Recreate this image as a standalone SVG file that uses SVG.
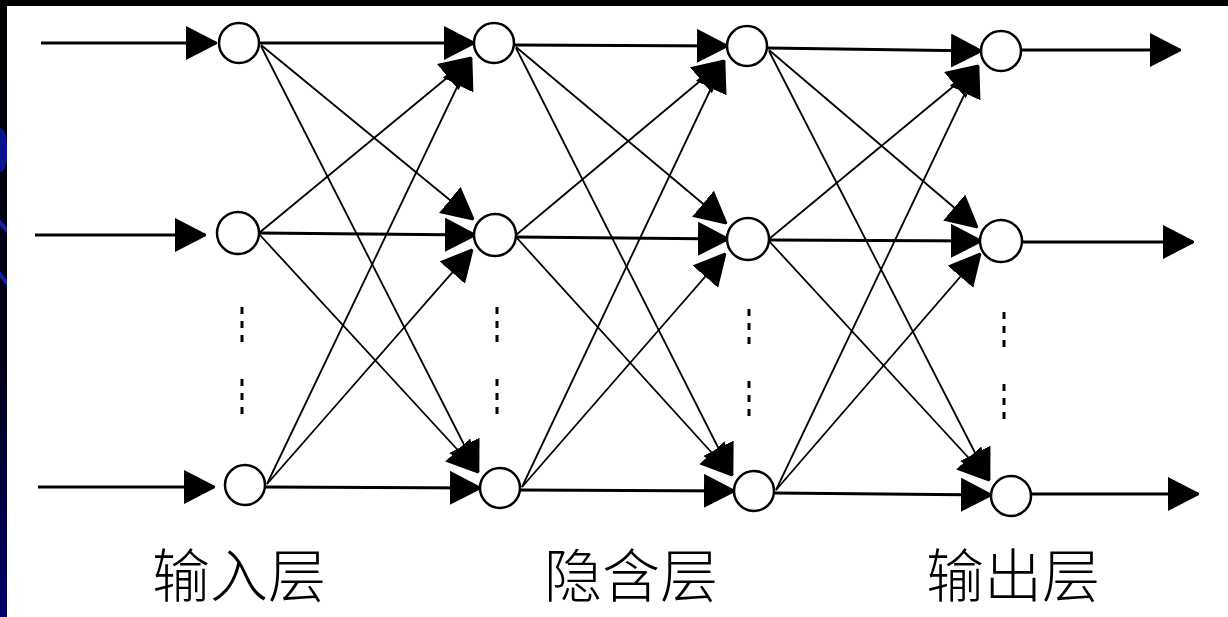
<svg xmlns="http://www.w3.org/2000/svg" width="1228" height="617" viewBox="0 0 1228 617">
  <defs>
    <style>
      .node { fill: #ffffff; stroke: #000000; stroke-width: 2.5; }
      .thick { stroke: #000000; stroke-width: 3; fill: none; marker-end: url(#head); }
      .thin { stroke: #000000; stroke-width: 1.8; fill: none; marker-end: url(#head); }
      .dots { stroke: #000000; stroke-width: 3; stroke-dasharray: 7 7; }
      .label { font-family: "Noto Sans CJK SC", "Noto Sans CJK TC", sans-serif; font-size: 58px; font-weight: 300; fill: #000000; text-anchor: middle; }
    </style>
    <marker id="head" viewBox="0 0 31 34" refX="30" refY="17" markerWidth="31" markerHeight="34" markerUnits="userSpaceOnUse" orient="auto">
      <path d="M0,0 L31,16 L31,18 L0,34 Z" fill="#000000"/>
    </marker>
    <linearGradient id="edge" x1="0" y1="0" x2="0" y2="1">
      <stop offset="0" stop-color="#000000"/>
      <stop offset="0.6" stop-color="#00001a"/>
      <stop offset="1" stop-color="#00006a"/>
    </linearGradient>
    <clipPath id="edgeClip">
      <rect x="0" y="0" width="7" height="617"/>
    </clipPath>
  </defs>

  <!-- page and frame -->
  <rect x="0" y="0" width="1228" height="617" fill="#ffffff"/>
  <rect x="0" y="0" width="1228" height="6" fill="#000000"/>
  <g clip-path="url(#edgeClip)">
    <rect x="0" y="0" width="7" height="617" fill="url(#edge)"/>
    <ellipse cx="0" cy="150" rx="8" ry="22" fill="#0a1490"/>
    <path d="M-4,218 L10,234" stroke="#1420b0" stroke-width="4"/>
    <path d="M-4,270 L10,286" stroke="#1420b0" stroke-width="4"/>
  </g>

  <!-- connectors -->
  <g id="connectors">
    <!-- inputs -->
    <path class="thick" d="M41,43 L216,43"/>
    <path class="thick" d="M35,235 L205,235"/>
    <path class="thick" d="M38,487 L214,487"/>

    <!-- input layer to hidden layer -->
    <path class="thick" d="M260,43 L474,43"/>
    <path class="thin" d="M261,45 L473,219"/>
    <path class="thin" d="M261,46 L478,472"/>
    <path class="thin" d="M259,233 L471,58"/>
    <path class="thick" d="M259,233 L475,235"/>
    <path class="thin" d="M259,234 L478,472"/>
    <path class="thin" d="M267,484 L471,58"/>
    <path class="thin" d="M267,484 L472,250"/>
    <path class="thick" d="M266,487 L480,488"/>

    <!-- hidden layer to hidden layer -->
    <path class="thick" d="M515,45 L727,46"/>
    <path class="thin" d="M516,47 L726,223"/>
    <path class="thin" d="M516,48 L732,475"/>
    <path class="thin" d="M516,235 L724,61"/>
    <path class="thick" d="M516,237 L728,239"/>
    <path class="thin" d="M516,237 L732,475"/>
    <path class="thin" d="M522,487 L724,61"/>
    <path class="thin" d="M522,487 L725,254"/>
    <path class="thick" d="M521,490 L734,491"/>

    <!-- hidden layer to output layer -->
    <path class="thick" d="M768,48 L981,51"/>
    <path class="thin" d="M769,50 L977,227"/>
    <path class="thin" d="M769,51 L989,480"/>
    <path class="thin" d="M769,239 L978,66"/>
    <path class="thick" d="M769,240 L981,241"/>
    <path class="thin" d="M769,241 L989,480"/>
    <path class="thin" d="M776,490 L978,66"/>
    <path class="thin" d="M776,490 L980,254"/>
    <path class="thick" d="M775,493 L991,495"/>

    <!-- outputs -->
    <path class="thick" d="M1022,50 L1180,50"/>
    <path class="thick" d="M1022,242 L1193,242"/>
    <path class="thick" d="M1032,494 L1198,494"/>
  </g>

  <!-- input layer -->
  <g id="input-layer">
    <circle class="node" cx="239" cy="43" r="20"/>
    <circle class="node" cx="238" cy="233" r="21"/>
    <circle class="node" cx="245" cy="485" r="20"/>
    <line class="dots" x1="242" y1="307" x2="242" y2="342"/>
    <line class="dots" x1="242" y1="379" x2="242" y2="414"/>
  </g>

  <!-- hidden layer (first) -->
  <g id="hidden-layer-1">
    <circle class="node" cx="494" cy="43" r="20"/>
    <circle class="node" cx="495" cy="235" r="21"/>
    <circle class="node" cx="500" cy="488" r="20"/>
    <line class="dots" x1="497" y1="307" x2="497" y2="342"/>
    <line class="dots" x1="497" y1="379" x2="497" y2="414"/>
  </g>

  <!-- hidden layer (second) -->
  <g id="hidden-layer-2">
    <circle class="node" cx="747" cy="46" r="20"/>
    <circle class="node" cx="748" cy="239" r="21"/>
    <circle class="node" cx="754" cy="491" r="20"/>
    <line class="dots" x1="749" y1="309" x2="749" y2="344"/>
    <line class="dots" x1="749" y1="381" x2="749" y2="416"/>
  </g>

  <!-- output layer -->
  <g id="output-layer">
    <circle class="node" cx="1001" cy="51" r="20"/>
    <circle class="node" cx="1001" cy="241" r="21"/>
    <circle class="node" cx="1011" cy="496" r="20"/>
    <line class="dots" x1="1004" y1="312" x2="1004" y2="347"/>
    <line class="dots" x1="1004" y1="384" x2="1004" y2="419"/>
  </g>

  <!-- layer captions -->
  <g id="captions">
    <text class="label" x="239" y="597">输入层</text>
    <text class="label" x="631" y="597">隐含层</text>
    <text class="label" x="1013" y="597">输出层</text>
  </g>
</svg>
